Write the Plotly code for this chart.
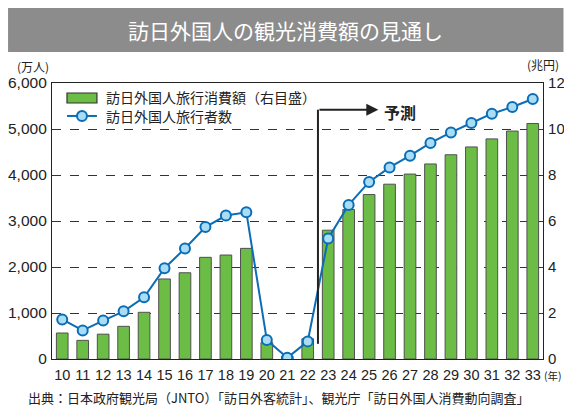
import plotly.graph_objects as go

years = [str(y) for y in range(10, 34)]
spending = [1.13, 0.81, 1.08, 1.42, 2.03, 3.48, 3.75, 4.42, 4.52, 4.81, 0.72, 0.12, 0.88,
            5.6, 6.5, 7.15, 7.6, 8.04, 8.48, 8.88, 9.22, 9.57, 9.91, 10.24]
visitors = [861, 622, 836, 1036, 1341, 1974, 2404, 2869, 3119, 3188, 412, 25, 383,
            2620, 3350, 3850, 4165, 4420, 4696, 4926, 5130, 5333, 5478, 5652]
left_ticks = [0, 1000, 2000, 3000, 4000, 5000, 6000]
right_ticks = [0, 2, 4, 6, 8, 10, 12]

# the page body adds an 8px margin; layout is given in window pixels and shifted
OFF = 8
W, H = 572 - 2 * OFF, 417 - 2 * OFF
PL, PR, PT, PB = 52, 543.5, 83, 359.3   # plot area in window pixels
L, T = PL - OFF, PT - OFF
R, B = W - (PR - OFF), H - (PB - OFF)
PW, PH = PR - PL, PB - PT

def px(x):
    return (x - PL) / PW

def py(y):
    return (PB - y) / PH

NUM = "Liberation Sans Narrow, Liberation Sans, Arial"
JP = "Noto Sans CJK JP"
GREEN = "#6cbd45"
BLUE = "#0b6db5"
LBLUE = "#a9dcf5"

fig = go.Figure()
fig.add_trace(go.Bar(
    x=years, y=spending, name="訪日外国人旅行消費額（右目盛）",
    marker=dict(color=GREEN, line=dict(color="#505050", width=1)),
    width=0.57, yaxis="y",
))
fig.add_trace(go.Scatter(
    x=years, y=visitors, name="訪日外国人旅行者数", mode="lines+markers",
    line=dict(color=BLUE, width=2),
    marker=dict(size=10, color=LBLUE, line=dict(color=BLUE, width=2)),
    yaxis="y2",
))

fig.update_layout(
    width=W, height=H, margin=dict(l=L, r=R, t=T, b=B, autoexpand=False),
    paper_bgcolor="white", plot_bgcolor="white",
    font=dict(family=JP, color="#222"),
    showlegend=False,
    xaxis=dict(type="category", range=[-0.5, 23.5], showline=True, linecolor="#222",
               linewidth=1.2, mirror=True, ticks="", showgrid=False, automargin=False,
               tickmode="array", tickvals=years, ticktext=years, ticklabelstandoff=2,
               tickfont=dict(family=NUM, size=14.5, color="#222")),
    yaxis=dict(side="right", range=[0, 12], tickvals=right_ticks, automargin=False,
               showline=True, linecolor="#222", linewidth=1.2, ticks="",
               showgrid=True, gridcolor="#333", griddash="dash", gridwidth=1,
               zeroline=False, ticklabelstandoff=1,
               tickfont=dict(family=NUM, size=15, color="#222")),
    yaxis2=dict(side="left", overlaying="y", range=[0, 6000], tickvals=left_ticks,
                tickformat=",d", showline=True, linecolor="#222", linewidth=1.2,
                ticks="", showgrid=False, zeroline=False, automargin=False,
                ticklabelstandoff=1,
                tickfont=dict(family=NUM, size=15.5, color="#222")),
)

shapes = [
    dict(type="rect", xref="paper", yref="paper", x0=px(8), x1=px(564), y0=py(7), y1=py(52),
         fillcolor="#8c8c8c", line=dict(width=0)),
    dict(type="line", xref="x", yref="y2", x0=12.5, x1=12.5, y0=330, y1=5420,
         line=dict(color="#222", width=2)),
    # legend symbols
    dict(type="rect", xref="paper", yref="paper", x0=px(67), x1=px(97), y0=py(93), y1=py(103),
         fillcolor=GREEN, line=dict(color="#333", width=1.2)),
    dict(type="line", xref="paper", yref="paper", x0=px(67), x1=px(97), y0=py(116), y1=py(116),
         line=dict(color=BLUE, width=2)),
    dict(type="circle", xref="paper", yref="paper", x0=px(77), x1=px(87), y0=py(111), y1=py(121),
         fillcolor=LBLUE, line=dict(color=BLUE, width=2)),
]

def txt(text, x, y, size, xanchor="center", color="#222", bold=False):
    return dict(text=f"<b>{text}</b>" if bold else text, xref="paper", yref="paper",
                x=px(x), y=py(y), xanchor=xanchor, yanchor="middle", showarrow=False,
                font=dict(size=size, color=color, family=JP))

annotations = [
    txt("訪日外国人の観光消費額の見通し", 286, 30, 21, color="white"),
    txt("(万人)", 33, 66, 12),
    txt("(兆円)", 544, 64, 12),
    txt("(年)", 554, 376, 10.5),
    txt("訪日外国人旅行消費額（右目盛）", 104, 97.5, 14, xanchor="left"),
    txt("訪日外国人旅行者数", 104, 116.5, 14, xanchor="left"),
    dict(text="", x=15.45, y=5420, xref="x", yref="y2", ax=12.5, ay=5420,
         axref="x", ayref="y2", showarrow=True, arrowhead=2, arrowsize=1.2,
         arrowwidth=2, arrowcolor="#222"),
    txt("予測", 382, 112, 16, xanchor="left", bold=True),
    txt("出典：日本政府観光局（JNTO）「訪日外客統計」、観光庁「訪日外国人消費動向調査」",
        26, 398, 13, xanchor="left"),
]
fig.update_layout(shapes=shapes, annotations=annotations)
fig.write_html("out.html")
